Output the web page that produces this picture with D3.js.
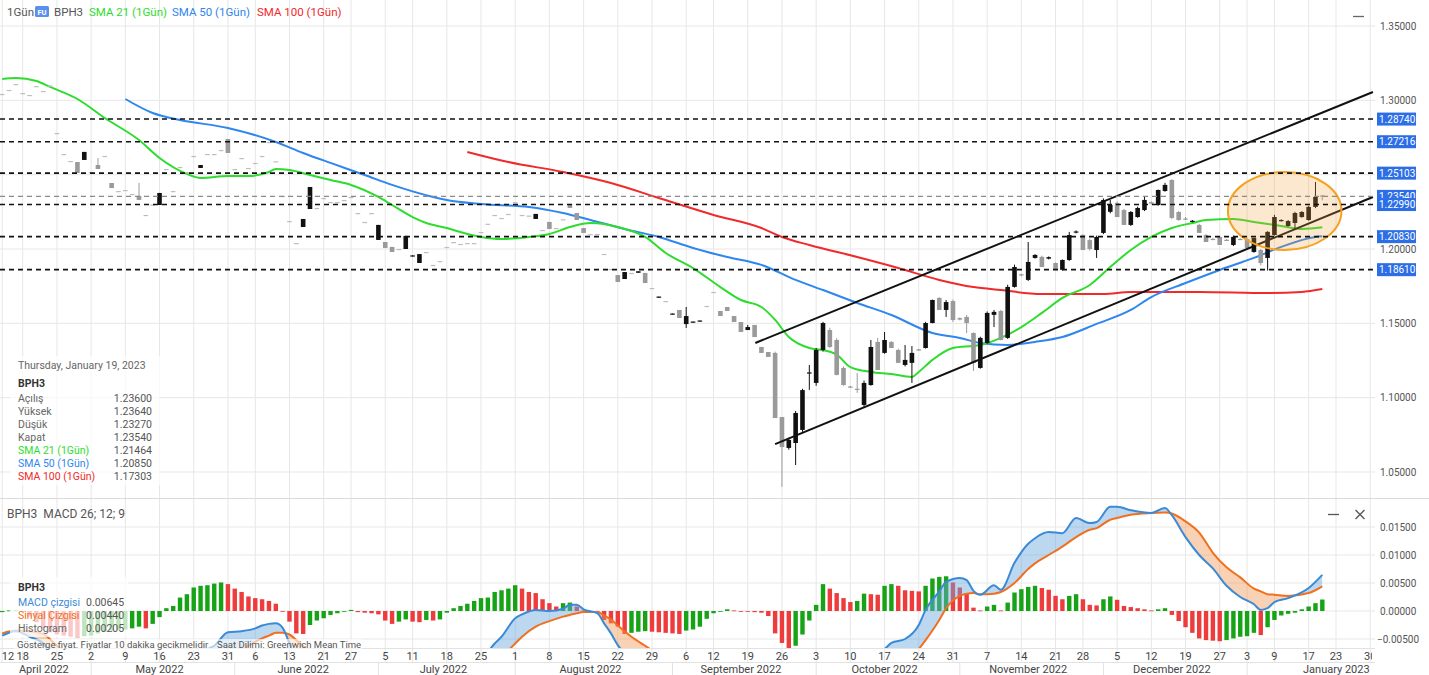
<!DOCTYPE html>
<html>
<head>
<meta charset="utf-8">
<script src="https://cdn.jsdelivr.net/npm/d3@7"></script>
<style>
  body { margin: 0; background: #fff; }
  svg text { font-family: Roboto, "Noto Sans", sans-serif; }
</style>
</head>
<body>
<svg id="chart" width="1429" height="675"></svg>
<script>
// ---- calendar ----
const FIRST_DAY = "2022-04-12";
const LAST_DAY = "2023-02-03";
const HOLIDAYS = ["2022-04-15", "2022-05-30", "2022-06-20", "2022-07-04", "2022-09-05",
                  "2022-11-24", "2022-12-26", "2023-01-02", "2023-01-16"];

// ---- daily bars: a number = flat bar, else [open, high, low, close] ----
const CANDLES = [
  // Apr 12
  1.3043, 1.3070, 1.3110,
  // Apr 18
  1.3049, 1.3036, 1.3096, 1.3063, 1.3100,
  // Apr 25
  1.2780, 1.2639, 1.2592, [1.2585, 1.2585, 1.2511, 1.2511], [1.2599, 1.2653, 1.2599, 1.2653],
  // May 2
  1.2518, [1.2565, 1.2612, 1.2538, 1.2538], 1.2626, [1.2444, 1.2444, 1.2410, 1.2410], 1.2390,
  // May 9
  1.2397, 1.2370, [1.2357, 1.2444, 1.2330, 1.2330], 1.2229, 1.2299,
  // May 16
  [1.2296, 1.2377, 1.2296, 1.2377], 1.2538, 1.2390, 1.2552, 1.2518,
  // May 23
  1.2626, [1.2545, 1.2565, 1.2545, 1.2565], 1.2639, 1.2639, 1.2666,
  // May 31
  [1.2740, 1.2740, 1.2646, 1.2646], 1.2538, 1.2612, 1.2545,
  // Jun 6
  1.2579, 1.2626, 1.2720, 1.2590, 1.2357,
  // Jun 13
  1.2188, 1.2040, [1.2148, 1.2202, 1.2148, 1.2202], [1.2269, 1.2417, 1.2269, 1.2417], 1.2276,
  // Jun 21
  1.2343, 1.2316, 1.2316, 1.2330,
  // Jun 27
  1.2350, 1.2242, 1.2182, 1.2242, [1.2061, 1.2162, 1.2061, 1.2162],
  // Jul 5
  [1.2047, 1.2047, 1.2007, 1.2007], [1.2014, 1.2014, 1.1980, 1.1980], 1.2000, [1.2000, 1.2088, 1.2000, 1.2088],
  // Jul 11
  [1.1950, 1.1957, 1.1950, 1.1957], [1.1906, 1.1966, 1.1906, 1.1966], 1.1980, 1.1893, 1.1919,
  // Jul 18
  1.2014, 1.2047, 1.2034, 1.2040, 1.2040,
  // Jul 25
  1.2114, 1.2170, 1.2229, 1.2209, 1.2236,
  // Aug 1
  1.2316, 1.2229, 1.2225, [1.2202, 1.2236, 1.2202, 1.2236], 1.2128,
  // Aug 8
  [1.2182, 1.2182, 1.2135, 1.2135], 1.2141, 1.2200, [1.2303, 1.2303, 1.2276, 1.2276], [1.2242, 1.2242, 1.2195, 1.2195],
  // Aug 15
  [1.2141, 1.2141, 1.2108, 1.2108], 1.2100, 1.2101, 1.1967, 1.1866,
  // Aug 22
  [1.1825, 1.1825, 1.1778, 1.1778], [1.1798, 1.1845, 1.1798, 1.1845], 1.1839, [1.1840, 1.1850, 1.1840, 1.1850], [1.1839, 1.1839, 1.1771, 1.1771],
  // Aug 29
  1.1738, [1.1674, 1.1680, 1.1674, 1.1680], 1.1650, [1.1560, 1.1566, 1.1560, 1.1566], [1.1590, 1.1590, 1.1536, 1.1536],
  // Sep 6
  [1.1495, 1.1610, 1.1469, 1.1549], [1.1506, 1.1512, 1.1506, 1.1512], [1.1513, 1.1519, 1.1513, 1.1519], 1.1617,
  // Sep 12
  1.1711, [1.1583, 1.1583, 1.1549, 1.1549], [1.1610, 1.1610, 1.1583, 1.1583], [1.1549, 1.1549, 1.1509, 1.1509], [1.1509, 1.1509, 1.1442, 1.1442],
  // Sep 19
  [1.1455, 1.1489, 1.1455, 1.1475], [1.1489, 1.1489, 1.1408, 1.1408], [1.1341, 1.1341, 1.1301, 1.1301], [1.1307, 1.1307, 1.1274, 1.1274], [1.1301, 1.1310, 1.0863, 1.0863],
  // Sep 26
  [1.0870, 1.0870, 1.0400, 1.0668], [1.0662, 1.0730, 1.0650, 1.0716], [1.0695, 1.0910, 1.0547, 1.0897], [1.0783, 1.1060, 1.0770, 1.1051], [1.1163, 1.1220, 1.1052, 1.1170],
  // Oct 3
  [1.1099, 1.1334, 1.1080, 1.1321], [1.1321, 1.1510, 1.1310, 1.1502], [1.1455, 1.1470, 1.1335, 1.1341], [1.1388, 1.1400, 1.1150, 1.1153], [1.1200, 1.1210, 1.1080, 1.1085],
  // Oct 10
  [1.1075, 1.1080, 1.1065, 1.1070], [1.1060, 1.1166, 1.1032, 1.1052], [1.0951, 1.1115, 1.0938, 1.1099], [1.1085, 1.1388, 1.1080, 1.1341], [1.1375, 1.1402, 1.1186, 1.1186],
  // Oct 17
  [1.1301, 1.1442, 1.1295, 1.1388], [1.1375, 1.1380, 1.1334, 1.1334], [1.1321, 1.1330, 1.1234, 1.1234], [1.1220, 1.1354, 1.1210, 1.1254], [1.1234, 1.1347, 1.1099, 1.1301],
  // Oct 24
  [1.1325, 1.1328, 1.1315, 1.1318], [1.1334, 1.1510, 1.1330, 1.1502], [1.1502, 1.1660, 1.1500, 1.1657], [1.1671, 1.1675, 1.1590, 1.1590], [1.1590, 1.1657, 1.1543, 1.1643],
  // Oct 31
  [1.1650, 1.1660, 1.1509, 1.1522], [1.1535, 1.1540, 1.1520, 1.1525], [1.1543, 1.1557, 1.1435, 1.1502], [1.1435, 1.1440, 1.1180, 1.1234], [1.1200, 1.1410, 1.1195, 1.1402],
  // Nov 7
  [1.1368, 1.1580, 1.1360, 1.1570], [1.1557, 1.1590, 1.1475, 1.1577], [1.1583, 1.1590, 1.1385, 1.1388], [1.1402, 1.1760, 1.1395, 1.1745], [1.1745, 1.1895, 1.1740, 1.1879],
  // Nov 14
  [1.1830, 1.1835, 1.1815, 1.1825], [1.1792, 1.2047, 1.1785, 1.1913], [1.1940, 1.1965, 1.1935, 1.1960], [1.1947, 1.1955, 1.1879, 1.1879], [1.1935, 1.1950, 1.1930, 1.1945],
  // Nov 21
  [1.1906, 1.1910, 1.1860, 1.1860], [1.1860, 1.1930, 1.1855, 1.1926], [1.1926, 1.2115, 1.1920, 1.2094], [1.2110, 1.2125, 1.2105, 1.2118],
  // Nov 28
  [1.2094, 1.2100, 1.1993, 1.1993], [1.2060, 1.2070, 1.1990, 1.2000], [1.1993, 1.2090, 1.1940, 1.2081], [1.2108, 1.2340, 1.2100, 1.2330], [1.2250, 1.2330, 1.2240, 1.2296],
  // Dec 5
  [1.2310, 1.2320, 1.2215, 1.2215], [1.2262, 1.2270, 1.2162, 1.2162], [1.2162, 1.2255, 1.2155, 1.2249], [1.2215, 1.2285, 1.2210, 1.2276], [1.2262, 1.2357, 1.2255, 1.2330],
  // Dec 12
  [1.2315, 1.2320, 1.2300, 1.2305], [1.2296, 1.2400, 1.2290, 1.2397], [1.2390, 1.2445, 1.2385, 1.2431], [1.2464, 1.2470, 1.2200, 1.2209], [1.2249, 1.2255, 1.2190, 1.2195],
  // Dec 19
  [1.2205, 1.2215, 1.2195, 1.2200], [1.2185, 1.2195, 1.2180, 1.2190], [1.2162, 1.2170, 1.2108, 1.2108], [1.2094, 1.2100, 1.2047, 1.2047], [1.2068, 1.2075, 1.2060, 1.2065],
  // Dec 27
  [1.2081, 1.2085, 1.2027, 1.2027], [1.2062, 1.2068, 1.2055, 1.2058], [1.2027, 1.2090, 1.2020, 1.2081], [1.2068, 1.2072, 1.2060, 1.2064],
  // Jan 3
  [1.2067, 1.2075, 1.2000, 1.2007], [1.1980, 1.2075, 1.1975, 1.2074], [1.1993, 1.2000, 1.1890, 1.1906], [1.1940, 1.2120, 1.1855, 1.2115],
  // Jan 9
  [1.2094, 1.2230, 1.2090, 1.2215], [1.2190, 1.2200, 1.2185, 1.2195], [1.2155, 1.2195, 1.2150, 1.2188], [1.2175, 1.2250, 1.2140, 1.2242], [1.2215, 1.2255, 1.2210, 1.2249],
  // Jan 17
  [1.2195, 1.2290, 1.2190, 1.2283], [1.2283, 1.2451, 1.2275, 1.2350], [1.2360, 1.2364, 1.2327, 1.2354]
];

// ---- moving averages, [bar index, value] ----
const SMA21 = [[0,1.3144],[2,1.3150],[5,1.3130],[7,1.3090],[11,1.3009],[15,1.2881],[20,1.2733],[23,1.2612],
  [27,1.2505],[29,1.2478],[33,1.2491],[36,1.2491],[39,1.2518],[40,1.2538],[42,1.2531],[45,1.2498],[48,1.2464],
  [51,1.2431],[55,1.2350],[57,1.2296],[60,1.2215],[62,1.2175],[65,1.2141],[67,1.2114],[70,1.2081],[73,1.2067],
  [77,1.2081],[80,1.2101],[83,1.2148],[86,1.2175],[88,1.2168],[90,1.2148],[94,1.2081],[97,1.1973],[101,1.1872],
  [105,1.1744],[108,1.1657],[111,1.1610],[113,1.1523],[115,1.1408],[118,1.1334],[120,1.1320],[122,1.1290],
  [124,1.1206],[127,1.1173],[130,1.1159],[133,1.1139],[134,1.1173],[136,1.1254],[139,1.1334],[142,1.1348],
  [143,1.1354],[146,1.1402],[149,1.1475],[152,1.1570],[155,1.1671],[159,1.1758],[162,1.1879],[165,1.1993],
  [168,1.2081],[171,1.2141],[174,1.2175],[176,1.2195],[180,1.2202],[183,1.2182],[187,1.2155],[190,1.2135],[193,1.21464]];
const SMA50 = [[18,1.3009],[22,1.2915],[26,1.2868],[33,1.2814],[40,1.2720],[44,1.2646],[48,1.2579],[53,1.2498],
  [57,1.2431],[63,1.2350],[65,1.2330],[70,1.2303],[77,1.2283],[82,1.2242],[86,1.2195],[91,1.2135],[96,1.2081],
  [101,1.2007],[106,1.1946],[111,1.1893],[116,1.1792],[120,1.1724],[125,1.1637],[130,1.1556],[136,1.1435],
  [140,1.1402],[143,1.1368],[147,1.1354],[151,1.1375],[155,1.1408],[160,1.1496],[165,1.1590],[168,1.1677],
  [173,1.1771],[178,1.1859],[183,1.1940],[187,1.2014],[192,1.2081],[193,1.20850]];
const SMA100 = [[68,1.2653],[74,1.2585],[82,1.2518],[89,1.2444],[96,1.2343],[104,1.2229],[111,1.2141],[114,1.2081],
  [118,1.2027],[125,1.1946],[131,1.1872],[137,1.1792],[142,1.1744],[146,1.1724],[152,1.1697],[156,1.1697],
  [161,1.1697],[165,1.1711],[175,1.1711],[185,1.1704],[190,1.1711],[193,1.17303]];

// ---- drawn levels and annotations ----
const LEVELS = [1.28740, 1.27216, 1.25103, 1.22990, 1.20830, 1.18610];
const CHANNEL = [[[110.1, 1.1368], [200.4, 1.3056]], [[113.0, 1.0688], [200.4, 1.2350]]];
const HIGHLIGHT_X = [179.2, 195.8];      // bar range of the ellipse
const HIGHLIGHT_Y = [1.1994, 1.2518];    // price range of the ellipse
const PRICE_TICKS = [1.05, 1.10, 1.15, 1.20, 1.25, 1.30, 1.35];

// ---- MACD 26;12;9, [bar index, macd, signal] ----
const MACD = [[0,-0.0044,-0.0040],[2,-0.0036,-0.0035],[4,-0.0046,-0.0036],[6,-0.0058,-0.0041],[8,-0.0100,-0.0062],
  [10,-0.0125,-0.0080],[12,-0.0138,-0.0093],[15,-0.0145,-0.0108],[18,-0.0147,-0.0115],[20,-0.0145,-0.0117],
  [24,-0.0115,-0.0120],[28,-0.0085,-0.0127],[30,-0.0068,-0.0114],[31,-0.0062,-0.0111],[33,-0.0038,-0.0086],
  [35,-0.0036,-0.0070],[37,-0.0031,-0.0055],[38,-0.0026,-0.0049],[39,-0.0023,-0.0044],[40,-0.0022,-0.0039],
  [41,-0.0030,-0.0039],[42,-0.0058,-0.0042],[43,-0.0090,-0.0052],[44,-0.0105,-0.0062],[46,-0.0110,-0.0085],
  [50,-0.0110,-0.0105],[55,-0.0125,-0.0115],[60,-0.0150,-0.0130],[63,-0.0160,-0.0143],[66,-0.0150,-0.0155],
  [68,-0.0120,-0.0133],[70,-0.0090,-0.0112],[72,-0.0058,-0.0090],[73,-0.0046,-0.0082],[75,-0.0013,-0.0058],
  [76,-0.0006,-0.0046],[78,0.0002,-0.0028],[80,0.0000,-0.0018],[82,0.0004,-0.0010],[83,0.0011,-0.0007],
  [84,0.0011,-0.0004],[85,0.0003,-0.0002],[87,-0.0004,-0.0002],[88,-0.0022,-0.0008],[89,-0.0040,-0.0015],
  [90,-0.0061,-0.0026],[92,-0.0085,-0.0046],[94,-0.0105,-0.0062],[96,-0.0115,-0.0078],[100,-0.0130,-0.0095],
  [104,-0.0125,-0.0122],[108,-0.0122,-0.0122],[111,-0.0125,-0.0123],[113,-0.0170,-0.0130],[115,-0.0215,-0.0142],
  [117,-0.0205,-0.0163],[119,-0.0175,-0.0165],[121,-0.0140,-0.0165],[123,-0.0125,-0.0150],[125,-0.0100,-0.0118],
  [127,-0.0080,-0.0110],[129,-0.0068,-0.0111],[130,-0.0057,-0.0105],[132,-0.0050,-0.0088],[134,-0.0025,-0.0068],
  [135,0.0002,-0.0052],[137,0.0035,-0.0016],[138,0.0052,0.0005],[140,0.0059,0.0027],[141,0.0055,0.0031],
  [142,0.0036,0.0032],[143,0.0029,0.0030],[145,0.0046,0.0031],[146,0.0038,0.0034],[148,0.0086,0.0050],
  [150,0.0120,0.0075],[151,0.0130,0.0085],[153,0.0141,0.0100],[155,0.0139,0.0115],[157,0.0166,0.0132],
  [159,0.0157,0.0145],[160,0.0159,0.0148],[162,0.0186,0.0163],[163,0.0186,0.0166],[165,0.0180,0.0172],
  [168,0.0175,0.0175],[170,0.0184,0.0176],[171,0.0171,0.0174],[173,0.0132,0.0160],[175,0.0100,0.0140],
  [177,0.0076,0.0104],[179,0.0045,0.0078],[181,0.0025,0.0060],[183,0.0012,0.0040],[184,0.0002,0.0035],
  [185,0.0005,0.0030],[186,0.0016,0.0029],[188,0.0023,0.0027],[191,0.0041,0.0032],[193,0.00645,0.00440]];
const HISTOGRAM = [
  -0.0002, 0.0001, 0.0001, 0.0000, -0.0010, -0.0020, -0.0030, -0.0038, -0.0042, -0.0044,
  -0.0046, -0.0047, -0.0045, -0.0044, -0.0040, -0.0037, -0.0035, -0.0034, -0.0033, -0.0031,
  -0.0028, -0.0031, -0.0023, -0.0011, 0.0005, 0.0009, 0.0024, 0.0030, 0.0042, 0.0045,
  0.0046, 0.0049, 0.0051, 0.0048, 0.0040, 0.0034, 0.0026, 0.0023, 0.0021, 0.0018,
  0.0013, -0.0001, -0.0019, -0.0040, -0.0041, -0.0025, -0.0017, -0.0013, -0.0007, -0.0004,
  -0.0001, 0.0002, -0.0002, -0.0003, -0.0004, -0.0006, -0.0017, -0.0023, -0.0019, -0.0015,
  -0.0019, -0.0020, -0.0016, -0.0017, -0.0015, -0.0003, 0.0005, 0.0009, 0.0013, 0.0018,
  0.0023, 0.0024, 0.0034, 0.0037, 0.0040, 0.0046, 0.0040, 0.0034, 0.0032, 0.0021,
  0.0014, 0.0008, 0.0014, 0.0015, 0.0008, 0.0001, 0.0000, -0.0001, -0.0016, -0.0022,
  -0.0028, -0.0041, -0.0039, -0.0037, -0.0036, -0.0037, -0.0038, -0.0039, -0.0040, -0.0041,
  -0.0035, -0.0033, -0.0028, -0.0014, -0.0004, -0.0001, 0.0003, 0.0001, 0.0000, -0.0001,
  -0.0002, -0.0003, -0.0009, -0.0040, -0.0057, -0.0073, -0.0062, -0.0042, -0.0017, 0.0011,
  0.0048, 0.0040, 0.0032, 0.0023, 0.0016, 0.0018, 0.0031, 0.0030, 0.0029, 0.0045,
  0.0048, 0.0045, 0.0037, 0.0036, 0.0035, 0.0045, 0.0058, 0.0061, 0.0062, 0.0051,
  0.0042, 0.0032, 0.0006, 0.0001, 0.0008, 0.0011, 0.0001, 0.0015, 0.0033, 0.0039,
  0.0043, 0.0045, 0.0041, 0.0038, 0.0027, 0.0021, 0.0027, 0.0030, 0.0021, 0.0011,
  0.0010, 0.0021, 0.0026, 0.0020, 0.0009, 0.0007, 0.0005, 0.0003, 0.0001, 0.0003,
  0.0005, -0.0007, -0.0018, -0.0029, -0.0039, -0.0049, -0.0052, -0.0053, -0.0054, -0.0052,
  -0.0049, -0.0046, -0.0045, -0.0039, -0.0043, -0.0029, -0.0016, -0.0008, -0.0005, -0.0003,
  0.0003, 0.0008, 0.0014, 0.00205];
const MACD_TICKS = [-0.005, 0, 0.005, 0.010, 0.015];

// ---- colours ----
const C_SMA21 = "#2edc2e", C_SMA50 = "#2f86ee", C_SMA100 = "#f02a2a";
const C_MACD = "#3a8ad6", C_SIGNAL = "#f07020";

// ---- setup ----
const svg = d3.select("#chart");
const W = 1429, PLOT_R = 1375;
const fmt5 = d3.format(".5f");
const parse = d3.utcParse("%Y-%m-%d"), fmtDay = d3.utcFormat("%Y-%m-%d");
const hol = new Set(HOLIDAYS);
const days = d3.utcDays(parse(FIRST_DAY), d3.utcDay.offset(parse(LAST_DAY), 1))
  .filter(d => d.getUTCDay() % 6 !== 0 && !hol.has(fmtDay(d)));

const bars = CANDLES.map((c, i) => {
  const [o, h, l, cl] = Array.isArray(c) ? c : [c, c, c, c];
  return { i, o, h, l, c: cl };
});

const x = d3.scaleLinear().domain([0, 200]).range([2.2, 1370.2]);
const y = d3.scaleLinear().domain([1.05, 1.35]).range([472, 26]);
const ym = d3.scaleLinear().domain([-0.005, 0.015]).range([639, 527]);

const idx = d3.range(days.length);
const weekStarts = idx.filter(i => i === 0 || +d3.utcMonday.floor(days[i]) !== +d3.utcMonday.floor(days[i - 1]));
const monthStarts = idx.filter(i => i === 0 || days[i].getUTCMonth() !== days[i - 1].getUTCMonth());

const defs = svg.append("defs");
defs.append("clipPath").attr("id", "clipMain").append("rect").attr("x", 0).attr("y", 0).attr("width", PLOT_R).attr("height", 496);
defs.append("clipPath").attr("id", "clipSub").append("rect").attr("x", 0).attr("y", 500).attr("width", PLOT_R).attr("height", 148);
defs.append("clipPath").attr("id", "clipDays").append("rect").attr("x", 0).attr("y", 648).attr("width", 1372).attr("height", 15);

// ---- grid ----
const grid = svg.append("g");
grid.selectAll(".vg").data(weekStarts.filter(i => x(i) < PLOT_R)).join("line")
  .attr("x1", i => x(i)).attr("x2", i => x(i)).attr("y1", 0).attr("y2", 662)
  .attr("stroke", "#e7e7e7");
grid.selectAll(".hg").data(PRICE_TICKS).join("line")
  .attr("x1", 0).attr("x2", PLOT_R).attr("y1", d => y(d)).attr("y2", d => y(d)).attr("stroke", "#e7e7e7");
grid.selectAll(".hm").data(MACD_TICKS).join("line")
  .attr("x1", 0).attr("x2", PLOT_R).attr("y1", d => ym(d)).attr("y2", d => ym(d)).attr("stroke", "#e7e7e7");
grid.append("line").attr("x1", 0).attr("x2", W).attr("y1", 498.5).attr("y2", 498.5).attr("stroke", "#dadada");
grid.append("line").attr("x1", 0).attr("x2", PLOT_R).attr("y1", 648.5).attr("y2", 648.5).attr("stroke", "#e2e2e2");
grid.append("line").attr("x1", 0).attr("x2", PLOT_R).attr("y1", 662.5).attr("y2", 662.5).attr("stroke", "#e2e2e2");
grid.selectAll(".ms").data(monthStarts.slice(1).filter(i => x(i) < PLOT_R)).join("line")
  .attr("x1", i => x(i)).attr("x2", i => x(i)).attr("y1", 662).attr("y2", 675).attr("stroke", "#e2e2e2");

// ---- main panel ----
const main = svg.append("g").attr("clip-path", "url(#clipMain)");
const line = d3.line().x(d => x(d[0])).y(d => y(d[1])).curve(d3.curveMonotoneX);
[[SMA100, C_SMA100], [SMA50, C_SMA50], [SMA21, C_SMA21]].forEach(([data, col]) => {
  main.append("path").attr("d", line(data)).attr("fill", "none").attr("stroke", col).attr("stroke-width", 2);
});

const bw = 4.6;
const colorOf = b => b.c > b.o ? "#111" : (b.c < b.o ? "#9a9a9a" : "#bdbdbd");
const cg = main.append("g");
cg.selectAll("line").data(bars.filter(b => b.h > b.l)).join("line")
  .attr("x1", b => x(b.i)).attr("x2", b => x(b.i))
  .attr("y1", b => y(b.h)).attr("y2", b => y(b.l))
  .attr("stroke", colorOf).attr("stroke-width", 1);
cg.selectAll("rect").data(bars).join("rect")
  .attr("x", b => x(b.i) - bw / 2).attr("width", bw)
  .attr("y", b => Math.min(y(b.o), y(b.c)))
  .attr("height", b => Math.max(1.2, Math.abs(y(b.o) - y(b.c))))
  .attr("fill", colorOf);

main.selectAll(".ch").data(CHANNEL).join("line")
  .attr("x1", d => x(d[0][0])).attr("y1", d => y(d[0][1]))
  .attr("x2", d => x(d[1][0])).attr("y2", d => y(d[1][1]))
  .attr("stroke", "#111").attr("stroke-width", 2);

main.append("ellipse")
  .attr("cx", (x(HIGHLIGHT_X[0]) + x(HIGHLIGHT_X[1])) / 2)
  .attr("cy", (y(HIGHLIGHT_Y[0]) + y(HIGHLIGHT_Y[1])) / 2)
  .attr("rx", (x(HIGHLIGHT_X[1]) - x(HIGHLIGHT_X[0])) / 2)
  .attr("ry", (y(HIGHLIGHT_Y[0]) - y(HIGHLIGHT_Y[1])) / 2)
  .attr("fill", "#f5a040").attr("fill-opacity", 0.25)
  .attr("stroke", "#f5a21e").attr("stroke-width", 2);

const last = bars[bars.length - 1];
main.append("line").attr("x1", 0).attr("x2", PLOT_R).attr("y1", y(last.c)).attr("y2", y(last.c))
  .attr("stroke", "#8a8a8a").attr("stroke-width", 1.3).attr("stroke-dasharray", "5,4");
main.selectAll(".lv").data(LEVELS).join("line")
  .attr("x1", 0).attr("x2", PLOT_R).attr("y1", d => y(d)).attr("y2", d => y(d))
  .attr("stroke", "#111").attr("stroke-width", 1.6).attr("stroke-dasharray", "5,4");

// ---- right price axis ----
const ax = svg.append("g").attr("font-size", 10).attr("fill", "#555");
ax.selectAll(".pt").data(PRICE_TICKS).join("text")
  .attr("x", 1380).attr("y", d => y(d) + 3.5).text(fmt5);
const tags = svg.append("g").attr("font-size", 10);
[last.c, ...LEVELS].forEach(v => {
  tags.append("rect").attr("x", 1377).attr("y", y(v) - 6.5).attr("width", 39).attr("height", 13).attr("fill", "#2c6ee6");
  tags.append("text").attr("x", 1379).attr("y", y(v) + 3.6).attr("fill", "#fff").text(fmt5(v));
});

// ---- MACD panel ----
const sub = svg.append("g").attr("clip-path", "url(#clipSub)");
sub.selectAll("rect").data(HISTOGRAM).join("rect")
  .attr("x", (d, i) => x(i) - 2.2).attr("width", 4.4)
  .attr("y", d => Math.min(ym(d), ym(0))).attr("height", d => Math.max(0.8, Math.abs(ym(d) - ym(0))))
  .attr("fill", (d, i) => i > 0 && d < HISTOGRAM[i - 1] ? "#ee3b3b" : "#16a316");

const ar = d3.area().x(d => x(d[0])).curve(d3.curveMonotoneX);
defs.append("clipPath").attr("id", "belowMacd").append("path").attr("d", ar.y0(800).y1(d => ym(d[1]))(MACD));
defs.append("clipPath").attr("id", "aboveMacd").append("path").attr("d", ar.y0(0).y1(d => ym(d[1]))(MACD));
sub.append("g").attr("clip-path", "url(#belowMacd)").append("path")
  .attr("d", ar.y0(d => ym(d[2])).y1(0)(MACD)).attr("fill", "#6aa8e0").attr("fill-opacity", 0.45);
sub.append("g").attr("clip-path", "url(#aboveMacd)").append("path")
  .attr("d", ar.y0(d => ym(d[2])).y1(800)(MACD)).attr("fill", "#f29a5c").attr("fill-opacity", 0.45);
const ml = d3.line().x(d => x(d[0])).curve(d3.curveMonotoneX);
sub.append("path").attr("d", ml.y(d => ym(d[2]))(MACD)).attr("fill", "none").attr("stroke", C_SIGNAL).attr("stroke-width", 2);
sub.append("path").attr("d", ml.y(d => ym(d[1]))(MACD)).attr("fill", "none").attr("stroke", C_MACD).attr("stroke-width", 2);

ax.selectAll(".mt").data(MACD_TICKS).join("text")
  .attr("x", d => d < 0 ? 1377 : 1380).attr("y", d => ym(d) + 3.5).text(fmt5);

// ---- time axis ----
const ta = svg.append("g")
  .attr("font-family", "'Liberation Sans Narrow', Roboto, sans-serif").attr("fill", "#444");
ta.append("g").attr("clip-path", "url(#clipDays)")
  .selectAll("text").data(weekStarts).join("text")
  .attr("x", i => Math.max(x(i), 8)).attr("y", 660).attr("text-anchor", "middle").attr("font-size", 11)
  .text(i => days[i].getUTCDate());
const monthSpans = monthStarts.map((s, k) => {
  const a = Math.max(0, x(s) - 3.4);
  const b = k + 1 < monthStarts.length && x(monthStarts[k + 1]) < PLOT_R ? x(monthStarts[k + 1]) - 3.4 : W;
  return { s, mid: (a + b) / 2 };
}).filter(m => x(m.s) < PLOT_R);
ta.selectAll(".ml").data(monthSpans).join("text")
  .attr("x", m => m.mid).attr("y", 673).attr("text-anchor", "middle").attr("font-size", 11)
  .text(m => d3.utcFormat("%B %Y")(days[m.s]));

// ---- header legend ----
const hd = svg.append("g").attr("font-size", 11.5);
hd.append("text").attr("x", 7).attr("y", 16).attr("fill", "#555").text("1Gün");
hd.append("rect").attr("x", 35).attr("y", 6).attr("width", 14).attr("height", 11).attr("rx", 1.5).attr("fill", "#5b8fee");
hd.append("text").attr("x", 42).attr("y", 14.5).attr("text-anchor", "middle").attr("font-size", 7.5).attr("font-weight", "bold").attr("fill", "#fff").text("FU");
hd.append("text").attr("x", 54).attr("y", 16).attr("fill", "#555").text("BPH3");
hd.append("text").attr("x", 89).attr("y", 16).attr("fill", C_SMA21).text("SMA 21 (1Gün)");
hd.append("text").attr("x", 172).attr("y", 16).attr("fill", C_SMA50).text("SMA 50 (1Gün)");
hd.append("text").attr("x", 257).attr("y", 16).attr("fill", C_SMA100).text("SMA 100 (1Gün)");
svg.append("line").attr("x1", 1353).attr("x2", 1364).attr("y1", 16.5).attr("y2", 16.5).attr("stroke", "#666").attr("stroke-width", 1.3);

// ---- info box (last bar) ----
const info = svg.append("g").attr("font-size", 10.5);
info.append("rect").attr("x", 10).attr("y", 356).attr("width", 150).attr("height", 129).attr("fill", "#fff").attr("fill-opacity", 0.7);
info.append("text").attr("x", 18).attr("y", 369).attr("fill", "#666").text(d3.utcFormat("%A, %B %-d, %Y")(days[last.i]));
info.append("text").attr("x", 18).attr("y", 387).attr("fill", "#333").attr("font-weight", "bold").text("BPH3");
const infoRows = [
  ["Açılış", last.o, "#666"], ["Yüksek", last.h, "#666"], ["Düşük", last.l, "#666"], ["Kapat", last.c, "#666"],
  ["SMA 21 (1Gün)", SMA21[SMA21.length - 1][1], C_SMA21],
  ["SMA 50 (1Gün)", SMA50[SMA50.length - 1][1], C_SMA50],
  ["SMA 100 (1Gün)", SMA100[SMA100.length - 1][1], C_SMA100]];
infoRows.forEach((r, k) => {
  info.append("text").attr("x", 18).attr("y", 402 + k * 13).attr("fill", r[2]).text(r[0]);
  info.append("text").attr("x", 152).attr("y", 402 + k * 13).attr("text-anchor", "end").attr("fill", "#555").text(fmt5(r[1]));
});

// ---- MACD legend ----
const mlg = svg.append("g").attr("font-size", 10.5);
mlg.append("text").attr("x", 7).attr("y", 518).attr("font-size", 12).attr("fill", "#555").text("BPH3\u00a0\u00a0MACD 26; 12; 9");
mlg.append("rect").attr("x", 10).attr("y", 577).attr("width", 118).attr("height", 60).attr("fill", "#fff").attr("fill-opacity", 0.72);
mlg.append("text").attr("x", 18).attr("y", 591).attr("font-weight", "bold").attr("fill", "#333").text("BPH3");
const lastM = MACD[MACD.length - 1];
[["MACD çizgisi", lastM[1], C_MACD], ["Sinyal Çizgisi", lastM[2], C_SIGNAL], ["Histogram", HISTOGRAM[HISTOGRAM.length - 1], "#666"]]
  .forEach((r, k) => {
    mlg.append("text").attr("x", 18).attr("y", 606 + k * 13).attr("fill", r[2]).text(r[0]);
    mlg.append("text").attr("x", 86).attr("y", 606 + k * 13).attr("fill", "#555").text(fmt5(r[1]));
  });
mlg.append("rect").attr("x", 14).attr("y", 639).attr("width", 348).attr("height", 11).attr("fill", "#fff").attr("fill-opacity", 0.6);
mlg.append("text").attr("x", 17).attr("y", 648).attr("font-size", 9.5).attr("fill", "#555").text("Gösterge fiyat. Fiyatlar 10 dakika gecikmelidir");
mlg.append("text").attr("x", 217).attr("y", 648).attr("font-size", 9.5).attr("fill", "#555").text("Saat Dilimi: Greenwich Mean Time");
svg.append("line").attr("x1", 1328).attr("x2", 1339).attr("y1", 514.5).attr("y2", 514.5).attr("stroke", "#555").attr("stroke-width", 1.3);
svg.append("path").attr("d", "M1355.5,510 L1364.5,519 M1364.5,510 L1355.5,519").attr("stroke", "#555").attr("stroke-width", 1.3);
</script>
</body>
</html>
